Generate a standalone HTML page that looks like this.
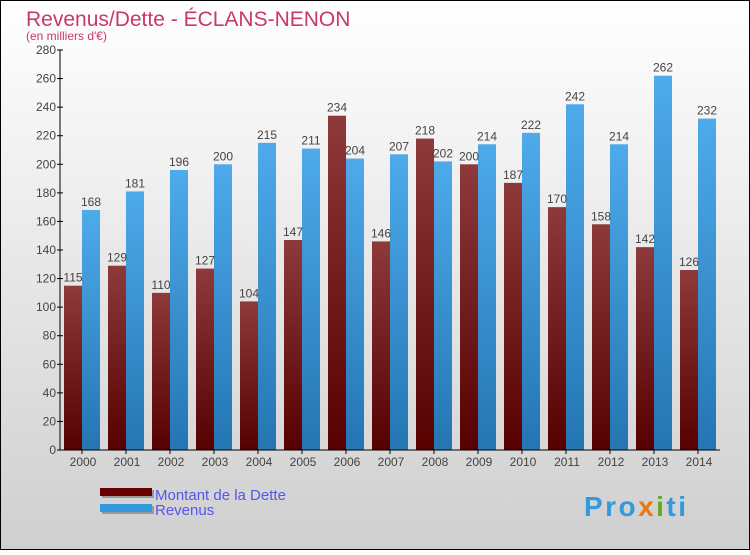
<!DOCTYPE html>
<html><head><meta charset="utf-8"><style>
html,body{margin:0;padding:0}
body{width:750px;height:550px;overflow:hidden;font-family:"Liberation Sans",sans-serif}
</style></head><body>
<svg id="chart" width="750" height="550" xmlns="http://www.w3.org/2000/svg">
<defs>
<linearGradient id="bg" x1="0" y1="0" x2="0" y2="1"><stop offset="0" stop-color="#ffffff"/><stop offset="1" stop-color="#cfcfcf"/></linearGradient>
<linearGradient id="gd" x1="0" y1="0" x2="0" y2="1"><stop offset="0" stop-color="#8e3a3a"/><stop offset="1" stop-color="#560000"/></linearGradient>
<linearGradient id="gr" x1="0" y1="0" x2="0" y2="1"><stop offset="0" stop-color="#4eaaea"/><stop offset="1" stop-color="#2476b2"/></linearGradient>
</defs>
<rect x="0.5" y="0.5" width="749" height="549" fill="url(#bg)" stroke="#000"/>
<text x="26" y="26" font-size="21" fill="#c8386a">Revenus/Dette - ÉCLANS-NENON</text>
<text x="26" y="40" font-size="12" fill="#c8386a">(en milliers d'€)</text>
<g id="bars"></g><g id="axes"></g>
<g>
<rect x="102" y="490" width="52" height="8" fill="#999"/>
<rect x="100" y="488" width="52" height="8" fill="#600"/>
<rect x="102" y="506" width="52" height="8" fill="#999"/>
<rect x="100" y="504" width="52" height="8" fill="#3399dd"/>
<text x="155" y="500" font-size="15" fill="#5555ee">Montant de la Dette</text>
<text x="155" y="515" font-size="15" fill="#5555ee">Revenus</text>
</g>
<text x="584" y="516" font-size="28" font-weight="bold" fill="#3399dd" textLength="102">Pro<tspan fill="#ee7711">x</tspan><tspan fill="#66aa22">i</tspan>ti</text>
</svg>
<script>
const years=["2000","2001","2002","2003","2004","2005","2006","2007","2008","2009","2010","2011","2012","2013","2014"];
const dette=[115,129,110,127,104,147,234,146,218,200,187,170,158,142,126];
const revenus=[168,181,196,200,215,211,204,207,202,214,222,242,214,262,232];
const yTicks=[0,20,40,60,80,100,120,140,160,180,200,220,240,260,280];
const NS="http://www.w3.org/2000/svg";
const x0=60,step=44,y0=450,yScale=400/280;
const y=v=>y0-v*yScale;
function mk(tag,attrs,parent,txt){const e=document.createElementNS(NS,tag);for(const k in attrs)e.setAttribute(k,attrs[k]);if(txt!==undefined)e.textContent=txt;parent.appendChild(e);return e;}
const bars=document.getElementById('bars'),axes=document.getElementById('axes');
yTicks.forEach(t=>{
  const tk=mk('line',{x1:x0-3,x2:x0+3,y1:y(t),y2:y(t),stroke:'#000'},axes);
  
  
  const tx=mk('text',{x:x0-4,y:y(t)+4,'font-size':12,'text-anchor':'end',fill:'#444'},axes,String(t));
  
  
});
years.forEach((yr,i)=>{
  const bx=x0+4+i*step;
  const d=mk('rect',{x:bx,y:y(dette[i]),width:18,height:dette[i]*yScale,fill:'url(#gd)'},bars);
  
  
  const r=mk('rect',{x:bx+18,y:y(revenus[i]),width:18,height:revenus[i]*yScale,fill:'url(#gr)'},bars);
  
  
  const dl=mk('text',{x:bx+9,y:y(dette[i])-4,'font-size':12,'text-anchor':'middle',fill:'#444'},bars,String(dette[i]));
  
  
  const rl=mk('text',{x:bx+27,y:y(revenus[i])-4,'font-size':12,'text-anchor':'middle',fill:'#444'},bars,String(revenus[i]));
  
  
  const xt=mk('line',{x1:bx+18,x2:bx+18,y1:y0,y2:y0+4,stroke:'#000'},axes);
  
  
  const xl=mk('text',{x:bx+19,y:y0+16,'font-size':12,'text-anchor':'middle',fill:'#444'},axes,yr);
  
  
});
const ya=mk('line',{x1:x0,x2:x0,y1:50,y2:y0,stroke:'#000'},axes);


const xa=mk('line',{x1:x0,x2:720,y1:y0,y2:y0,stroke:'#000'},axes);


</script>
</body></html>
